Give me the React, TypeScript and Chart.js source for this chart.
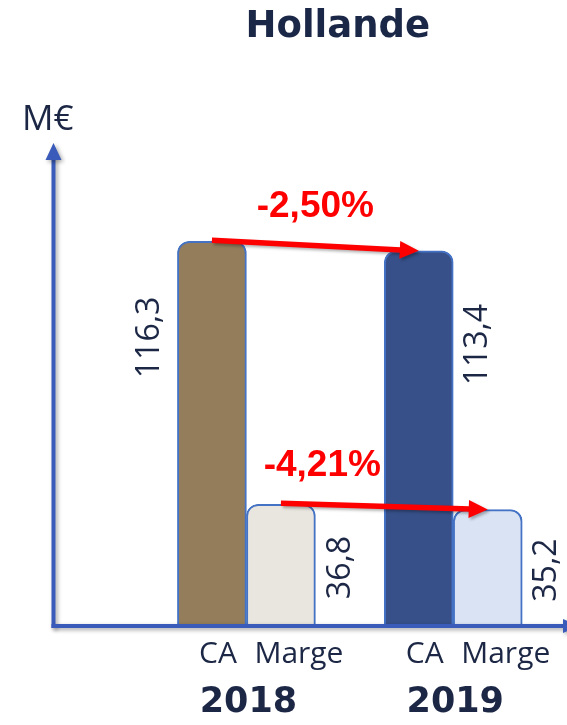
import React, { useEffect, useRef } from 'react';
import { Chart, registerables } from 'chart.js';

Chart.register(...registerables);

// ---- data ----
const titleText = 'Hollande';
const unitLabel = 'M€';
const years = ['2018', '2019'];
const yearPositions = [1, 2];
const seriesNames = ['CA', 'Marge'];
const caValues = [116.3, 113.4];
const margeValues = [36.8, 35.2];
const changeLabels = ['-2,50%', '-4,21%'];

const fmt = (v: number) => v.toFixed(1).replace('.', ',');

const NAVY = '#1C2745';
const AXIS = '#3A5BBA';
const RED = '#FF0000';

function drawArrow(ctx: CanvasRenderingContext2D, x1: number, y1: number, x2: number, y2: number, lw: number, headLen: number, headHalf: number, color: string) {
  const ang = Math.atan2(y2 - y1, x2 - x1);
  const c = Math.cos(ang), s = Math.sin(ang);
  const bx = x2 - headLen * c, by = y2 - headLen * s;
  ctx.strokeStyle = color;
  ctx.fillStyle = color;
  ctx.lineWidth = lw;
  ctx.lineCap = 'butt';
  ctx.beginPath();
  ctx.moveTo(x1, y1);
  ctx.lineTo(bx + 1 * c, by + 1 * s);
  ctx.stroke();
  ctx.beginPath();
  ctx.moveTo(x2, y2);
  ctx.lineTo(bx - headHalf * s, by + headHalf * c);
  ctx.lineTo(bx + headHalf * s, by - headHalf * c);
  ctx.closePath();
  ctx.fill();
}

// label placement (style, not data)
const valueSide = [['left', 'right'], ['right', 'right']];
const valueFrac = [0.75, 0.48];
const changeT = [0.5, 0.2];

const decorPlugin = {
  id: 'decor',
  afterDatasetsDraw(chart: any) {
    const ctx: CanvasRenderingContext2D = chart.ctx;
    const { left, right, top, bottom } = chart.chartArea;
    const xs = chart.scales.x;
    const ys = chart.scales.y;
    ctx.save();

    // axes with soft shadow
    ctx.shadowColor = 'rgba(0,0,0,0.35)';
    ctx.shadowBlur = 4;
    ctx.shadowOffsetX = 2;
    ctx.shadowOffsetY = 2;
    const ax = left + 1.5;
    const ay = bottom;
    ctx.strokeStyle = AXIS;
    ctx.fillStyle = AXIS;
    ctx.lineWidth = 4;
    ctx.beginPath();
    ctx.moveTo(ax, ay + 2);
    ctx.lineTo(ax, top + 14);
    ctx.stroke();
    ctx.beginPath();
    ctx.moveTo(ax, top);
    ctx.lineTo(ax - 8, top + 17);
    ctx.lineTo(ax + 8, top + 17);
    ctx.closePath();
    ctx.fill();
    ctx.beginPath();
    ctx.moveTo(ax - 2, ay);
    ctx.lineTo(right - 4, ay);
    ctx.stroke();
    ctx.beginPath();
    ctx.moveTo(right + 12, ay);
    ctx.lineTo(right - 4, ay - 7);
    ctx.lineTo(right - 4, ay + 7);
    ctx.closePath();
    ctx.fill();

    // change arrows between bar tops
    ctx.shadowColor = 'rgba(0,0,0,0.3)';
    ctx.shadowBlur = 3;
    const metas = [chart.getDatasetMeta(0), chart.getDatasetMeta(1)];
    const arrowPts: number[][] = [];
    metas.forEach((m: any) => {
      const a = m.data[0], b = m.data[1];
      const p = [a.x, a.y - 1, b.x, b.y];
      arrowPts.push(p);
      drawArrow(ctx, p[0], p[1], p[2], p[3], 5.5, 19, 9, RED);
    });
    ctx.shadowColor = 'transparent';
    ctx.shadowBlur = 0;
    ctx.shadowOffsetX = 0;
    ctx.shadowOffsetY = 0;

    // change labels
    ctx.fillStyle = RED;
    ctx.font = 'bold 37px "Liberation Sans", Arial, sans-serif';
    ctx.textAlign = 'center';
    ctx.textBaseline = 'middle';
    arrowPts.forEach((p, i) => {
      const t = changeT[i];
      const lx = p[0] + t * (p[2] - p[0]);
      const ly = p[1] + t * (p[3] - p[1]) - 39;
      ctx.fillText(changeLabels[i], lx, ly);
    });

    // value labels (rotated)
    ctx.fillStyle = NAVY;
    ctx.font = '32px "Open Sans", sans-serif';
    const allValues = [caValues, margeValues];
    metas.forEach((m: any, di: number) => {
      m.data.forEach((bar: any, i: number) => {
        const v = allValues[di][i];
        const side = valueSide[di][i];
        const lx = side === 'left' ? bar.x - bar.width / 2 - 28 : bar.x + bar.width / 2 + 25;
        const ly = ys.getPixelForValue(v * valueFrac[di]);
        ctx.save();
        ctx.translate(lx, ly);
        ctx.rotate(-Math.PI / 2);
        ctx.fillText(fmt(v), 0, 0);
        ctx.restore();
      });
    });

    // category labels
    ctx.font = '30px "Open Sans", sans-serif';
    const catOffset = [6, 18];
    metas.forEach((m: any, di: number) => {
      m.data.forEach((bar: any) => {
        ctx.fillText(seriesNames[di], bar.x + catOffset[di], bottom + 28);
      });
    });

    // years
    ctx.font = 'bold 35px "DejaVu Sans", sans-serif';
    years.forEach((y, i) => {
      ctx.fillText(y, xs.getPixelForValue(yearPositions[i]) + 2, bottom + 77);
    });

    // title
    ctx.font = 'bold 37px "DejaVu Sans", sans-serif';
    ctx.fillStyle = '#1B2747';
    ctx.fillText(titleText, (xs.getPixelForValue(yearPositions[0]) + xs.getPixelForValue(yearPositions[1])) / 2 - 12, 27);

    // unit
    ctx.font = '35px "Open Sans", sans-serif';
    ctx.fillStyle = NAVY;
    ctx.textAlign = 'left';
    ctx.textBaseline = 'alphabetic';
    ctx.fillText(unitLabel, left - 30, top - 13);

    ctx.restore();
  },
};

export default function App() {
  const ref = useRef<HTMLCanvasElement | null>(null);
  useEffect(() => {
    if (!ref.current) return;
    const radius = { topLeft: 12, topRight: 12, bottomLeft: 0, bottomRight: 0 };
    const common = {
      borderColor: '#4472C4',
      borderWidth: 2,
      borderRadius: radius,
      borderSkipped: 'bottom',
      barThickness: 69,
    };
    const chart = new Chart(ref.current, {
      type: 'bar',
      data: {
        datasets: [
          {
            label: seriesNames[0],
            data: caValues.map((v, i) => ({ x: yearPositions[i], y: v })),
            backgroundColor: ['#937D5B', '#375089'],
            ...common,
          },
          {
            label: seriesNames[1],
            data: margeValues.map((v, i) => ({ x: yearPositions[i], y: v })),
            backgroundColor: ['#E9E5DF', '#DAE3F3'],
            ...common,
          },
        ],
      } as any,
      options: {
        responsive: false,
        animation: false,
        layout: { padding: { left: 52, right: 0, top: 143, bottom: 99 } },
        scales: {
          x: { type: 'linear', min: 0.06, max: 2.55, display: false, offset: false },
          y: { min: 0, max: 146, display: false },
        },
        plugins: {
          legend: { display: false },
          tooltip: { enabled: false },
          title: { display: false },
        },
      } as any,
      plugins: [decorPlugin],
    });
    return () => chart.destroy();
  }, []);
  return (
    <div style={{ position: 'absolute', left: 0, top: 0, width: 567, height: 725, background: '#fff' }}>
      <canvas ref={ref} width={567} height={725} style={{ width: 567, height: 725, display: 'block' }} />
    </div>
  );
}
